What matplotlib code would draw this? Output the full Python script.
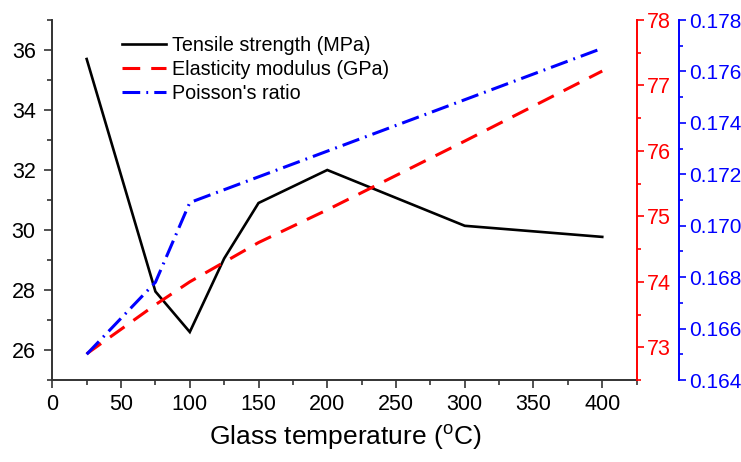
import matplotlib
matplotlib.use("Agg")
import matplotlib.pyplot as plt
from matplotlib.ticker import MultipleLocator, FormatStrFormatter

plt.rcParams["font.family"] = ["Liberation Sans", "DejaVu Sans"]
plt.rcParams["mathtext.fontset"] = "custom"
plt.rcParams["mathtext.rm"] = "Liberation Sans"

# Glass temperature (°C) and measured properties
temperature = [25, 75, 100, 125, 150, 200, 300, 400]
tensile_strength = [35.7, 27.95, 26.6, 29.05, 30.9, 32.0, 30.14, 29.77]
elastic_modulus = [72.9, 73.65, 74.0, 74.3, 74.6, 75.1, 76.15, 77.22]
poisson_ratio = [0.1650, 0.1678, 0.1709, 0.1714, 0.1719, 0.1729, 0.1749, 0.1769]

series_labels = ["Tensile strength (MPa)", "Elasticity modulus (GPa)", "Poisson's ratio"]

W, H = 741, 462
fig = plt.figure(figsize=(W / 100, H / 100), dpi=100)
ax = fig.add_axes([52.3 / W, 1 - 380 / H, 585 / W, 360 / H])
ax_e = ax.twinx()
ax_p = ax.twinx()

tick_fs = 15.5

# Tensile strength on the left axis
l1, = ax.plot(temperature, tensile_strength, color="black", lw=1.9,
              solid_joinstyle="miter")
ax.set_xlim(0, 425.5)
ax.set_ylim(25, 37)
ax.xaxis.set_major_locator(MultipleLocator(50))
ax.xaxis.set_minor_locator(MultipleLocator(25))
ax.yaxis.set_major_locator(MultipleLocator(2))
ax.yaxis.set_minor_locator(MultipleLocator(1))
ax.tick_params(axis="both", which="major", direction="out", length=6, width=1.2,
               labelsize=tick_fs, color="#333333")
ax.tick_params(axis="both", which="minor", direction="out", length=3.5, width=1.2,
               color="#333333")
ax.tick_params(axis="y", which="major", pad=6)
ax.tick_params(axis="x", which="major", pad=4)
ax.spines["top"].set_visible(False)
ax.spines["right"].set_visible(False)
for s in ("left", "bottom"):
    ax.spines[s].set_linewidth(1.4)
    ax.spines[s].set_color("#333333")
ax.set_xlabel(r"Glass temperature ($\mathregular{^o}$C)", fontsize=19, labelpad=6)

# Elasticity modulus on the first right axis
l2, = ax_e.plot(temperature, elastic_modulus, color="red", lw=2.2,
                linestyle=(0, (5.8, 3.6)))
ax_e.set_ylim(72.5, 78)
ax_e.yaxis.set_major_locator(MultipleLocator(1))
ax_e.yaxis.set_minor_locator(MultipleLocator(0.5))
ax_e.yaxis.set_major_formatter(FormatStrFormatter("%d"))
for s in ("top", "left", "bottom"):
    ax_e.spines[s].set_visible(False)
ax_e.spines["right"].set_color("red")
ax_e.spines["right"].set_linewidth(1.4)
ax_e.tick_params(axis="y", which="major", colors="red", direction="out", length=5,
                 width=1.2, labelsize=tick_fs, pad=2)
ax_e.tick_params(axis="y", which="minor", colors="red", direction="out", length=3,
                 width=1.2)

# Poisson's ratio on the offset right axis
l3, = ax_p.plot(temperature, poisson_ratio, color="blue", lw=2.2,
                linestyle=(0, (5.8, 2.0, 0.6, 2.0)))
ax_p.set_ylim(0.164, 0.178)
ax_p.yaxis.set_major_locator(MultipleLocator(0.002))
ax_p.yaxis.set_minor_locator(MultipleLocator(0.001))
ax_p.yaxis.set_major_formatter(FormatStrFormatter("%.3f"))
for s in ("top", "left", "bottom"):
    ax_p.spines[s].set_visible(False)
ax_p.spines["right"].set_position(("outward", 30))
ax_p.spines["right"].set_color("blue")
ax_p.spines["right"].set_linewidth(1.4)
ax_p.tick_params(axis="y", which="major", colors="blue", direction="out", length=5,
                 width=1.2, labelsize=15, pad=2)
ax_p.tick_params(axis="y", which="minor", colors="blue", direction="out", length=3,
                 width=1.2)

ax.legend([l1, l2, l3], series_labels, loc="upper left",
          bbox_to_anchor=(0.096, 0.994), frameon=False, fontsize=14.2,
          handlelength=2.2, handletextpad=0.3, labelspacing=0.25,
          borderaxespad=0.3)

fig.savefig("out.png", dpi=100)
